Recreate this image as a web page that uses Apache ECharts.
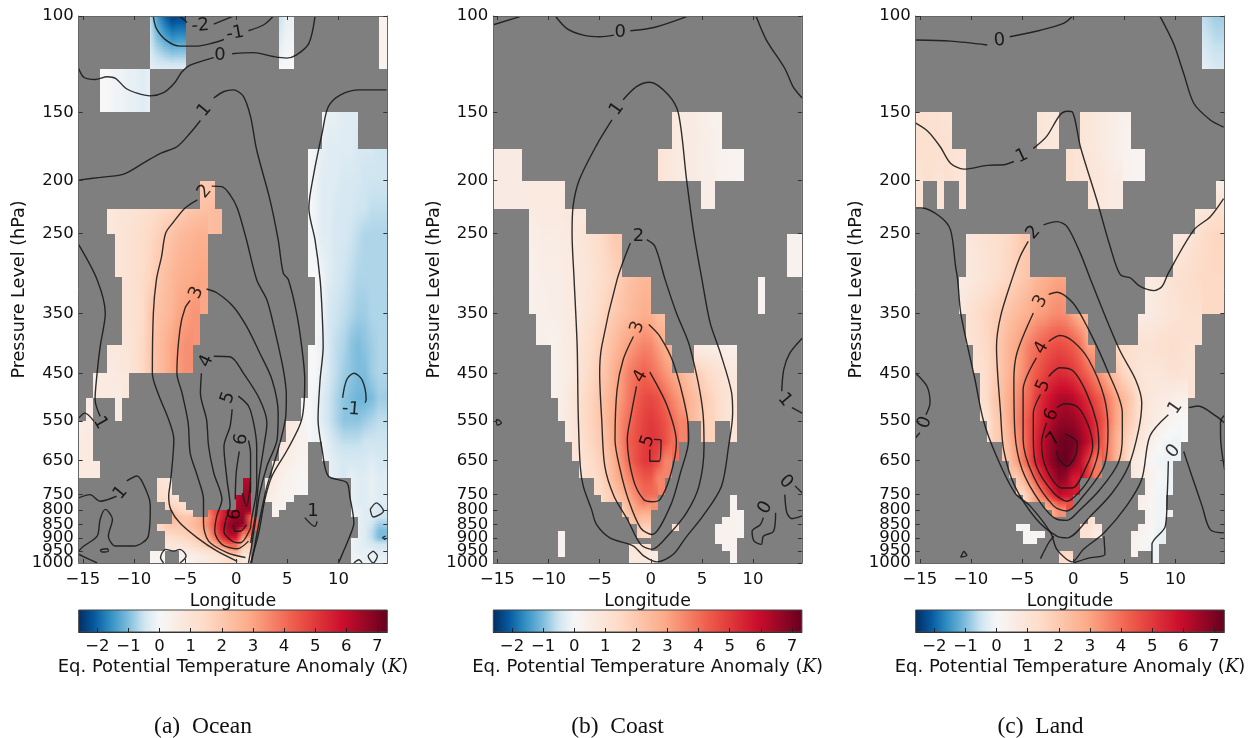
<!DOCTYPE html>
<html><head><meta charset="utf-8">
<style>html,body{margin:0;padding:0;background:#fff}#c{width:1258px;height:738px;filter:blur(0.5px)}</style>
<script src="https://cdn.jsdelivr.net/npm/echarts@6/dist/echarts.min.js"></script>
</head><body><div id="c"></div>
<script>
// pressure levels bounding the cell rows, and the tick labels
const levels=[100,125,150,175,200,225,250,300,350,400,450,500,550,600,650,700,750,775,800,825,850,875,900,925,950,975,1000];
const pressureTicks=[100,150,200,250,350,450,550,650,750,800,850,900,950,1000];
const lonTicks=[-15,-10,-5,0,5,10];
const barTicks=[-2,-1,0,1,2,3,4,5,6,7];
const lonMin=-15.4, lonMax=14.77, cellWidth=0.7, barMin=-2.6, barMax=7.32;

// anomaly cells, tenths of a kelvin, one list per level row: [firstColumn, values...]
const oceanRows=[
[[10,-6,-14,-20,-24,-23],[28,-6,-2],[42,3]],
[[3,0,0,-1,-1,-2,-2,-3]],
[[34,-1,-2,-2,-3,-3]],
[[32,0,-1,-2,-3,-3,-3,-3,-4,-4,-4,-5]],
[[17,19,20],[32,0,-1,-3,-3,-3,-4,-4,-4,-5,-5,-5]],
[[4,8,9,10,10,11,12,13,14,15,16,18,20,21,22,23,24],[32,0,-1,-3,-3,-4,-4,-4,-5,-5,-6,-6]],
[[5,9,10,11,12,13,15,17,20,22,24,25,26,27],[32,0,-1,-3,-3,-4,-4,-5,-6,-7,-7,-7]],
[[6,10,11,12,14,16,20,23,25,27,28,29,30],[33,0,-1,-3,-4,-5,-6,-7,-7,-7,-7]],
[[6,10,11,12,14,20,22,24,26,30,31,33],[33,0,-1,-4,-5,-6,-7,-8,-8,-7,-7]],
[[4,8,8,9,10,12,15,20,23,26,30,32,34],[32,0,0,-2,-4,-6,-7,-9,-10,-9,-8,-7]],
[[2,6,7,7,7,8],[32,0,0,-2,-4,-6,-8,-9,-10,-10,-8,-7]],
[[1,6],[5,6],[31,1,0,-1,-3,-5,-7,-9,-10,-11,-11,-10,-8]],
[[0,5,6],[29,8,7,3,0,-1,-3,-5,-7,-9,-9,-9,-8,-7,-6]],
[[0,6,7],[28,9,7,5,3],[34,-1,-3,-5,-6,-6,-6,-5,-5,-5]],
[[0,7,7,7],[27,8,7,5,4,2],[35,-2,-3,-4,-4,-4,-4,-3,-4]],
[[11,10,9],[23,62],[26,9,7,5,3,2,1],[38,-2,-3,-3,-2,-3]],
[[11,13,12,10],[22,60,65],[26,7,5,3,2],[38,-2,-3,-3,-2,-3]],
[[12,15,14,12],[22,62,66],[27,4,3],[38,-2,-3,-3,-2,-3]],
[[13,20,16,13],[18,38,46,54,60,63,66],[27,3],[38,-2,-2,-3,-3,-4]],
[[13,26,22,20,22,27,34,44,54,62,66,67,40],[39,-2,-3,-3,-5]],
[[11,14,18,22,20,22,24,28,36,46,58,66,70,68,42],[39,-2,-3,-5,-8]],
[[12,16,17,18,19,21,25,32,44,56,64,66,42],[39,-2,-3,-6,-10]],
[[12,12,13,14,16,18,21,28,38,50,58,56,32],[38,0,-2,-3,-6,-10]],
[[12,8,9,10,12,14,17,21,28,36,44,42,20],[38,-1,-2,-3,-4,-5]],
[[10,2,3],[14,4,6,8,10,12,14,18,28,30,14],[38,-1,-2,-2,-2,-3]],
[[10,2,2],[14,2,3,4,6,7,9,11,14,14,8],[38,-1,-1,-2,-2,-2]]];
const oceanHidden={1:[[10,-2,-3,-3,-3,-3,-3],[28,0,0],[42,3]]};

const coastRows=[
[],[],
[[25,8,7,6,6,5,4,3]],
[[0,6,6,6,6],[23,10,9,8,7,6,6,5,5,4,3,2,2]],
[[0,6,6,6,6,6,7,7,7,7,7],[29,5,5]],
[[5,6,7,7,7,7,8,8,8]],
[[5,5,5,6,6,6,7,8,9,10,12,14,17,20],[41,3,3]],
[[5,4,4,5,5,5,6,7,8,9,11,13,15,17,20,22,24,25],[37,2]],
[[6,4,4,5,5,6,7,8,10,12,15,18,20,22,24,26,28,27,23]],
[[8,3,4,6,7,10,12,15,18,21,24,28,31,34,36,35,31,27],[28,5,5,5,4,4,3]],
[[8,3,4,5,7,10,13,16,20,23,28,32,37,40,42,40,37,33,30,27,23,20,17,14,12,10,8]],
[[9,4,6,9,12,15,18,22,25,29,33,38,43,46,47,45,41,36,32,27,24,21,18,15,12,10]],
[[10,7,9,12,15,18,21,26,30,36,40,45,48,50,48,45,41,36],[29,20,17],[33,9]],
[[11,9,10,14,17,20,24,30,36,43,46,49,51,50,46,40]],
[[12,10,12,15,18,22,28,34,41,46,50,50,46,36]],
[[14,13,16,21,26,31,36,41,44,44,36]],
[[15,14,17,21,25,30,36,40,40],[33,2]],
[[18,21,27,33,38,34],[33,2]],
[[18,18,24,30,30],[33,3,2]],
[[19,21,26,24],[32,3,3,2]],
[[20,22,20],[25,12],[31,3,3,3,2]],
[[9,3],[20,18,15],[31,3,3,3,2]],
[[9,3],[31,2,3,3]],
[[9,3],[19,8,10,10],[32,2,2]],
[[9,3],[19,8,10,10,8],[33,2]],
[[19,7,8,8,6],[33,2]]];
const coastHidden={};

const landRows=[
[[40,-6,-7,-8]],
[],
[[0,12,12,11,11,10],[17,10,9,8],[23,9,9,8,7,6,5,4]],
[[0,12,12,12,12,12,11,10],[21,12,11,10,9,8,7,5,4,3,2,2]],
[[0,10],[3,10],[6,9],[24,10,9,8,7,6],[42,5]],
[[39,7,8,9,11]],
[[7,8,9,10,11,12,13,15,17,20],[36,7,8,9,11,13,15,16]],
[[6,6,7,8,9,10,12,14,16,18,20,22,25,27,29,30],[32,6,7,8,10,11,12,13,14,15,15,15]],
[[7,10,12,14,16,18,20,22,24,26,28,31,32,34,35,34,30,26],[31,5,6,7,8,9,10,11,12,12]],
[[8,11,13,15,18,22,26,29,33,37,40,43,45,46,45,43,39,30],[28,14,13,12,11,11,11,12,12,13,12,11]],
[[9,11,14,18,22,26,30,34,40,44,48,51,53,52,50,46,41,36,31,26,21,16,13,10,9,9,9,10,11,11,10]],
[[9,11,14,20,23,28,33,38,42,50,55,59,62,63,61,57,52,46,42,36,30,25,20,13,10,8,7,6,5,4]],
[[10,10,18,22,28,35,40,46,52,58,63,66,67,66,63,58,52,46,38,30,24,18,13,9,7,5,3,1,0]],
[[12,20,25,32,38,46,55,62,67,71,72,71,67,60,52,44,35,27,20,14,10,7,4,1,-1,-1]],
[[13,22,30,38,46,55,62,68,72,73,69,61,50,38],[30,9,6,4,1,-1,-1]],
[[14,18,26,36,46,55,62,68,66,56],[32,5,3,0,-1]],
[[15,14,22,32,42,52,60,58],[31,5,4,1,-1]],
[[18,30,38,46,46],[31,4,3,1,-1]],
[[19,28,34],[32,3,1,-1,-1]],
[[24,12],[32,3,1,-1]],
[[14,1,1],[23,12,13,9],[31,4,2,1,-1]],
[[15,1,1,2],[23,11,11,7],[30,4,3,2,0,-2]],
[[15,1,1],[30,4,3,1,0,-2]],
[[30,4,2,1,-1]],
[[20,16,16],[30,3],[33,-1]],
[[20,14,13],[33,-1]]];
const landHidden={1:[[40,-2,-3,-4]]};

// contour lines: flat lists of longitude, depth (1000*log10(p/100))
const oceanLines=[
[-15.4,96,-14.9,112,-13.8,116,-12.6,111,-11.8,114,-10.8,132,-9.7,141,-8.4,146,-7.1,140,-6.1,124,-5.3,102,-4.5,90,-2.2,76],
[-0.4,69,1.7,67,3.6,74,4.9,77,5.9,71,7.1,50,7.7,1],
[14.7,135,12.1,135,10.2,144,9,166,8.4,214,7.6,287,7.1,351,7.7,409,8.2,482,8.4,543,8.5,604,8.2,665,8,738,8.4,793,9,841,10.8,853,11.1,878,11.5,927,11.1,951,10.3,987,10,1000],
[10.4,698,10.8,665,11.5,653,12.3,665,12.7,701,12.6,707],
[-8.1,1,-7.8,23,-6.8,45,-5.5,55,-3.8,55,-2.2,49,-1.2,43],
[1.2,27,2.7,16,3.6,1],
[-5.5,1,-4.8,12],[-2.2,15,-0.4,1],
[-15.4,300,-13.3,295,-11,289,-9.1,269,-7.4,251,-5.8,239,-4.5,214,-3.5,191],
[-2.2,150,-1.2,138,-0.3,135,0.7,147,1.4,184,2,245,3.3,336,4.1,409,4.6,470,5.1,482,5.9,543,6.4,604,6.7,665,6.4,738,5,793,3.5,841,2.8,884,2.2,945,1.4,1000],
[-3.8,336,-5,351,-6.1,376,-6.9,397,-7.3,440,-7.8,482,-8.1,543,-8.2,653,-7.6,692,-6.6,738,-6.1,774,-6.4,848,-6.6,878,-6.4,902,-5.5,927,-3.8,954,-1.9,978,0.1,997],
[-2.4,311,-1.4,312,-0.6,327,0.1,351,1,409,2,482,3,519,3.6,561,4.6,646,4.9,695,4.8,738,4,799,3,860,2.3,920,1.8,969,1.5,1000],
[-4.5,520,-5,534,-5.5,573,-5.8,653,-5.3,689,-4.7,744,-4.5,799,-3.8,841,-3.2,884,-3.2,927,-2.7,960,-0.9,981,0.9,990],
[-2.9,499,-1.9,506,-0.3,531,1,567,2.3,616,3.5,665,4.1,726,4,774,3,823,2.3,872,2,908,1.5,969,1.2,1000],
[-3.4,653,-3.5,689,-2.9,738,-2.7,787,-2.2,835,-1.4,884,-1.9,914,-2.1,942,-1.4,966,0.1,974,1.2,960],
[-2.2,622,-0.6,623,0.7,653,2.3,701,3,744,2.7,787,2.2,848,1.9,908,1.4,963],
[-0.4,719,-0.6,750,-1.2,787,-0.9,848,-0.6,896,-1,920,-1.2,942,-0.4,960,0.4,963,1.4,936],
[0.2,695,1.2,713,1.7,744,2,787,2,860,1.5,920,1.4,936],
[1.2,776,1.4,799,1.4,872],[0.3,796,0,835,-0.1,884],
[-0.3,931,-0.1,942,0.4,942,1,930],[1.4,853,1,896,0.6,872],
[-15.4,418,-13.6,482,-12.8,543,-13.3,604,-13.6,653,-13.8,701,-13.3,732],
[-15.4,735,-14.8,726,-13.9,741],
[-11.7,878,-13.3,887,-14.3,875,-15.4,881],
[-10.7,850,-9.7,841,-8.7,872,-8.4,896,-8.6,951,-10,969,-11.8,969,-12.5,951,-12.1,920,-12.8,902,-13.3,920,-13.6,951,-14.9,969,-15.4,978],
[-13.3,976,-12.6,974,-12.5,978,-13.1,980,-13.3,976],
[-15.4,984,-14.3,994,-13.6,1000],
[-7.1,1000,-7.4,990,-6.9,975,-6.1,978,-5.5,975,-4.9,987,-5.5,1000],
[6.7,917,7.7,933,7.9,924],
[13.1,902,13.7,890,14.4,905,13.4,916,13.1,902],
[13.4,978,12.9,987,13.4,1000,13.8,987,13.4,978],
[14.6,951,14.3,954,14.6,957],
[11.5,1000,12,994,12.3,1000]];
const oceanLabels=[["-2",-3.5,18,5],["-1",-0.1,32,10],["0",-1.6,71,0],["1",-3.1,172,50],["2",-3.1,321,50],["3",-3.9,506,65],["4",-2.9,631,65],["5",-0.8,698,70],["6",0.5,774,80],["6",-0.1,911,80],["1",-13.3,744,-60],["1",-11.3,872,50],["1",7.5,905,0],["-1",11.2,719,-5]];

const coastLines=[
[-15.4,16,-12.8,1],
[-9.3,1,-8.2,23,-6.6,35,-5,38,-3.6,35],[-2,27,0.3,21,3.5,1],
[10.3,1,11.3,44,13.1,96,13.9,129,14.8,150],
[-3.8,190,-5.3,236,-7,300,-7.6,348,-7.7,397,-7.5,482,-7.2,604,-7.1,726,-6.9,823,-6.6,860,-5.8,902,-5.3,930,-4,954,-1.7,969,-0.7,987,0.6,998,2.2,984,3.4,954,5.1,914,6.9,860,7.6,787,8,726,7.9,689,6.8,616,5.8,561,5,482,4.2,397,3.5,300,2.7,178,1.7,144,-0.1,121,-1.4,129,-2.7,153],
[-0.4,409,0.4,421,1.4,482,2.5,543,3.8,604,5.1,726,5.2,787,4.7,860,3.5,908,1.9,945,0.1,975,-1,966,-2.3,920,-3.6,878,-4.5,823,-4.8,738,-5,653,-4.8,604,-3.3,482,-2,415],
[-1.7,586,-2.7,628,-3.3,683,-3.5,774,-3,829,-2.2,884,-1,936,0.1,948,1.9,896,2.9,835,3.7,774,3.5,726,2.2,634,0.9,586,-0.2,564],
[-1.4,677,-1.9,726,-2.3,774,-1.7,848,-0.7,884,0.1,888,0.9,884,1.9,841,2.5,780,1.6,713,-0.1,651],
[-0.1,793,-0.1,814,0.8,814,1,775,0.3,774],
[-14.9,738,-14.6,744,-15,748,-15.1,738,-14.9,738],
[14.8,589,13.6,616,13,646,12.8,686],[13.8,716,14.8,726],
[14.1,859,14.8,872],
[13.1,875,13.3,908,13.8,919,14.8,914],
[11,917,10.7,930,9.9,942,10.1,960,10.8,966,11,951,12,942,12.2,908]];
const coastLabels=[["0",-3,30,0],["1",-3.3,170,55],["2",-1.2,403,0],["3",-1.3,569,70],["4",-1,659,60],["5",-0.3,777,70],["1",13.1,702,-50],["0",13.2,852,-45],["0",11.2,899,60]];

const landLines=[
[-15.4,44,-12,46,-8.4,53],[-6.2,38,-3.2,26,-0.9,13,-0.1,1],
[8.5,1,9.8,50,10.8,105,11.8,160,13.4,190,14.7,203],
[-15.4,196,-14.2,211,-13,239,-12,269,-10.7,280,-8.4,273,-6.8,272,-5.8,266],
[-3.9,242,-2.6,220,-1.3,181,-0.6,174,-0.1,175,0.7,239,2.3,336,3.6,421,4.6,473,5.6,479,6.5,494,7.9,502,8.7,494,9.3,470,11.8,391,13.4,367,14.7,334],
[-2.9,382,-1.6,376,-0.6,385,0.7,434,1.7,482,3,543,4.6,613,6.1,665,6.7,707,6.4,756,5.4,823,3.8,872,1.7,914,-0.6,954,-1.6,951,-3.6,920,-5.7,860,-6.8,793,-7.1,726,-7.5,604,-7.1,549,-6,482,-5.2,440,-4.4,412],
[-2.4,509,-1.6,505,0,525,1.5,573,3.3,646,4.8,726,4.8,768,4.4,817,2.6,866,0.7,902,-0.6,922,-1.6,920,-3.2,890,-5,829,-5.7,762,-5.8,665,-5.5,616,-3.9,543],
[-2.4,595,-1.3,584,0,595,1.5,628,3,695,3.4,756,3,823,0.7,884,-0.6,905,-1.9,896,-3.9,841,-4.9,774,-4.9,683,-3.6,625],
[-2.4,659,-1.3,643,0,649,1.3,689,2.3,744,2.5,787,1.7,841,0.5,872,-0.6,887,-1.9,872,-3.6,823,-3.9,774,-3.9,726,-3.2,692],
[-2.6,744,-3.1,780,-2.6,829,-1.1,863,-0.1,863,1.3,823,1.9,787,1.5,750,0.5,716,-0.8,709,-1.6,716],
[-1.6,796,-1.4,811,-0.6,823,0.2,805,0.4,780,-0.8,764],
[-15.4,351,-14.8,351,-13,367,-12,391,-11.5,458,-11.3,482,-11,543,-10.4,598,-9.6,665,-8.8,738,-7.5,805,-5.7,872,-4.2,896,-2.2,945,-1.6,975,-0.1,998,1,975,3,945,5.2,896,6.7,847,7.5,768,9.3,729],
[11.3,716,12.2,713,14,732,14.8,744],
[-15.4,653,-14.3,677,-14,707,-14.4,729],[-15,762,-15.4,771],
[9.3,814,9.2,872,9,933,7.7,966,7.7,1000],
[10.8,796,11.6,841,12.6,896,13.4,939,14.8,945],
[14.8,730,14.4,741,14.4,768,14.8,829],
[-3.2,992,-2.4,963,-1.9,951],[0,1000,1.5,991,3.1,984,3,951],
[-10.7,978,-10.4,986,-11,989,-10.7,978]];
const landLabels=[["0",-7.2,45,5],["1",-5,256,25],["2",-3.9,396,50],["3",-3.2,522,60],["4",-3.1,607,60],["5",-2.9,676,65],["6",-2.1,729,65],["7",-1.9,774,50],["1",10,716,55],["0",-14.5,743,70],["0",9.8,796,50]];

const ramp=[[3,45,95],[5,90,160],[50,145,195],[118,185,218],[205,228,240],[247,247,247],[253,219,199],[252,170,135],[238,88,72],[205,15,45],[103,0,31]];
function rampAt(t){t=Math.max(0,Math.min(1,t))*10;const i=Math.min(9,Math.floor(t)),f=t-i,a=ramp[i],b=ramp[i+1];
  return 'rgb('+[0,1,2].map(k=>Math.round(a[k]+(b[k]-a[k])*f)).join(',')+')';}
function color(v){return rampAt(v<0?0.5+0.5*v/2.6:0.5+0.5*v/7.3);}
const depth=p=>1000*Math.log10(p/100);
const G=echarts.graphic;

function cellsOf(rows,hidden){
  const look=(src,r,c)=>{for(const s of (src[r]||[])){if(c>=s[0]&&c<s[0]+s.length-1)return s[c-s[0]+1];}return null;};
  const at=(r,c)=>{const v=look(rows,r,c);return v!==null?v:look(hidden,r,c);};
  const out=[];
  rows.forEach((row,r)=>row.forEach(span=>{
    for(let i=1;i<span.length;i++){
      const c=span[0]+i-1,tl=span[i];
      const tr=at(r,c+1),bl=at(r+1,c),br=at(r+1,c+1);
      const TR=tr===null?tl:tr,BL=bl===null?tl:bl,BR=br===null?(bl===null?TR:BL):br;
      out.push([lonMin+cellWidth*c,c===42?lonMax:lonMin+cellWidth*(c+1),depth(levels[r]),depth(levels[r+1]),tl/10,TR/10,BL/10,BR/10]);
    }
  }));
  return out;
}
function renderCell(p,api){
  const a=api.coord([api.value(0),api.value(2)]),b=api.coord([api.value(1),api.value(3)]);
  const x0=Math.round(a[0]),x1=Math.round(b[0]),y0=a[1],y1=b[1];
  const n=Math.max(1,Math.round((y1-y0)/2)),kids=[];
  const tl=api.value(4),tr=api.value(5),bl=api.value(6),br=api.value(7);
  for(let k=0;k<n;k++){
    const s=(k+0.5)/n,ya=Math.round(y0+(y1-y0)*k/n),yb=Math.round(y0+(y1-y0)*(k+1)/n);
    const l=tl+(bl-tl)*s,r=tr+(br-tr)*s;
    kids.push({type:'rect',shape:{x:x0,y:ya,width:x1-x0,height:yb-ya},
      style:{fill:new G.LinearGradient(0,0,1,0,[{offset:0,color:color(l)},{offset:1,color:color(r)}])}});
  }
  return {type:'group',children:kids};
}
const frame='#666';
const panels=[
 {left:78.7,rows:oceanRows,hidden:oceanHidden,lines:oceanLines,labels:oceanLabels,title:'(a)  Ocean',tx:198},
 {left:493.3,rows:coastRows,hidden:coastHidden,lines:coastLines,labels:coastLabels,title:'(b)  Coast',tx:612.5},
 {left:915.7,rows:landRows,hidden:landHidden,lines:landLines,labels:landLabels,title:'(c)  Land',tx:1035.5}];
const W=308.6,font='"DejaVu Sans"';
const pressureLabel=v=>String(Math.round(100*Math.pow(10,v/1000)));
const option={animation:false,backgroundColor:'#fff',grid:[],xAxis:[],yAxis:[],series:[],title:[]};
panels.forEach((P,i)=>{
  const g=option.grid.length;
  option.grid.push({left:P.left,width:W,top:16,height:547,show:true,backgroundColor:'#7f7f7f',borderWidth:0});
  const lonVals=lonTicks, pVals=pressureTicks.map(depth);
  const xBase={gridIndex:g,type:'value',min:lonMin,max:lonMax,splitLine:{show:false},z:6,
    axisLine:{show:true,onZero:false,lineStyle:{color:frame,width:1}},
    axisTick:{show:true,inside:true,length:4,customValues:lonVals,lineStyle:{color:'#333'}}};
  option.xAxis.push(Object.assign({},xBase,{position:'bottom',name:'Longitude',nameLocation:'middle',nameGap:23,
    nameTextStyle:{fontFamily:font,fontSize:17.4,color:'#111'},
    axisLabel:{customValues:lonVals,fontFamily:font,fontSize:16.5,color:'#111',margin:8,formatter:v=>String(v).replace('-','\u2212')}}));
  option.xAxis.push(Object.assign({},xBase,{position:'top',axisLabel:{show:false}}));
  const yBase={gridIndex:g,type:'value',min:0,max:1000,inverse:true,splitLine:{show:false},z:6,
    axisLine:{show:true,onZero:false,lineStyle:{color:frame,width:1}},
    axisTick:{show:true,inside:true,length:4,customValues:pVals,lineStyle:{color:'#333'}}};
  option.yAxis.push(Object.assign({},yBase,{position:'left',name:'Pressure Level (hPa)',nameLocation:'middle',nameGap:50,
    nameTextStyle:{fontFamily:font,fontSize:17.6,color:'#111'},
    axisLabel:{customValues:pVals,fontFamily:font,fontSize:16.5,color:'#111',margin:5,hideOverlap:false,formatter:pressureLabel}}));
  option.yAxis.push(Object.assign({},yBase,{position:'right',axisLabel:{show:false}}));
  const xi=option.xAxis.length-2, yi=option.yAxis.length-2;
  // lowest pressure label sits on its own axis so that the crowded labels above it all stay visible
  option.yAxis.push({gridIndex:g,type:'value',min:0,max:1000,inverse:true,position:'left',splitLine:{show:false},z:6,
    axisLine:{show:false},axisTick:{show:false},
    axisLabel:{customValues:[pVals[pVals.length-1]],fontFamily:font,fontSize:16.5,color:'#111',margin:5,showMaxLabel:true,formatter:pressureLabel}});
  option.series.push({type:'custom',xAxisIndex:xi,yAxisIndex:yi,silent:true,clip:true,progressive:0,z:2,
    renderItem:renderCell,data:cellsOf(P.rows,P.hidden),encode:{x:[0,1],y:[2,3]}});
  P.lines.forEach(f=>{const pts=[];for(let k=0;k<f.length;k+=2)pts.push([f[k],f[k+1]]);
    option.series.push({type:'line',xAxisIndex:xi,yAxisIndex:yi,silent:true,data:pts,smooth:0.3,symbol:'none',z:3,clip:true,
      lineStyle:{color:'#1a1a1a',width:1.4,opacity:0.9}});});
  option.series.push({type:'scatter',xAxisIndex:xi,yAxisIndex:yi,silent:true,symbolSize:0,z:4,
    data:P.labels.map(l=>({value:[l[1],l[2]],label:{show:true,position:'inside',formatter:l[0],rotate:l[3],
      fontFamily:font,fontSize:18,color:'#000'}}))});
  // colour bar
  const h=option.grid.length;
  option.grid.push({left:P.left,width:W,top:610,height:22,show:false});
  option.xAxis.push({gridIndex:h,type:'value',min:barMin,max:barMax,position:'bottom',splitLine:{show:false},z:6,
    axisLine:{show:true,onZero:false,lineStyle:{color:'#333'}},
    axisTick:{show:true,inside:true,length:4,customValues:barTicks,lineStyle:{color:'#222'}},
    axisLabel:{customValues:barTicks,fontFamily:font,fontSize:16.5,color:'#111',margin:6,formatter:v=>String(v).replace('-','\u2212')},
    name:'{a|Eq. Potential Temperature Anomaly (}{k|K}{a|)}',nameLocation:'middle',nameGap:26,
    nameTextStyle:{rich:{a:{fontFamily:font,fontSize:18,color:'#111'},k:{fontFamily:'"DejaVu Serif"',fontStyle:'italic',fontSize:18,color:'#111'}}}});
  option.yAxis.push({gridIndex:h,type:'value',min:0,max:1,axisLine:{show:false},axisTick:{show:false},axisLabel:{show:false},splitLine:{show:false}});
  const stops=[];for(let k=0;k<=60;k++){const v=barMin+(barMax-barMin)*k/60;stops.push({offset:k/60,color:color(v)});}
  option.series.push({type:'custom',xAxisIndex:option.xAxis.length-1,yAxisIndex:option.yAxis.length-1,silent:true,z:2,
    data:[[barMin,barMax]],encode:{x:[0,1]},renderItem:(p,api)=>{
      const a=api.coord([api.value(0),1]),b=api.coord([api.value(1),0]);
      return {type:'rect',shape:{x:a[0],y:a[1],width:b[0]-a[0],height:b[1]-a[1]},
        style:{fill:new G.LinearGradient(0,0,1,0,stops),stroke:'#444',lineWidth:1}};}});
  option.title.push({text:P.title,left:P.tx,top:710,textAlign:'center',textStyle:{fontFamily:'"Liberation Serif"',fontSize:23.5,fontWeight:'normal',color:'#111'}});
});
echarts.init(document.getElementById('c'),null,{renderer:'canvas'}).setOption(option);
</script></body></html>
